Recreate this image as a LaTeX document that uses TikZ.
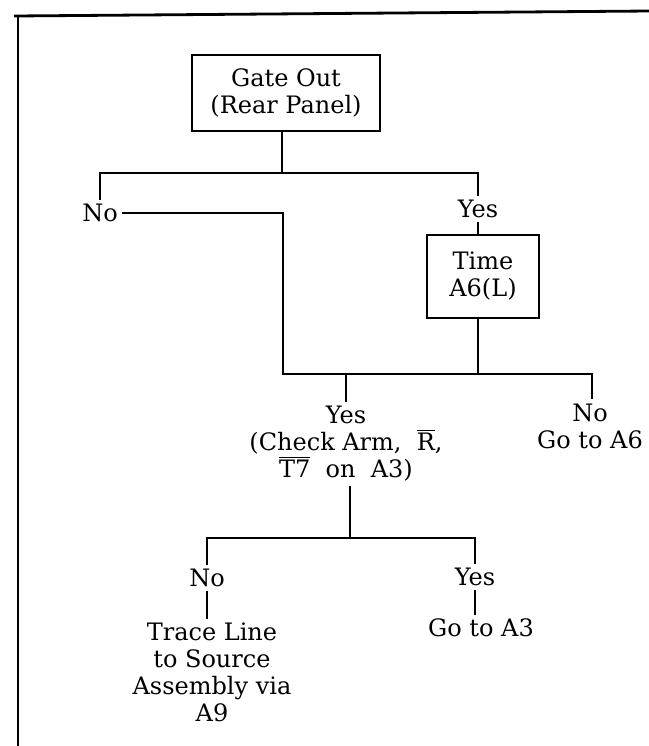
\documentclass[tikz,border=0pt]{standalone}
\usepackage{fontspec}
\setmainfont{DejaVu Serif}
\begin{document}
\begin{tikzpicture}[x=0.5pt,y=-0.5pt,
  lbl/.style={inner sep=2pt,align=center,font=\fontsize{12pt}{13.5pt}\selectfont},
  boxnode/.style={lbl,draw,line width=1.3pt},
  conn/.style={line width=1.3pt},
  frameline/.style={line width=1.4pt}]
\useasboundingbox (0,0) rectangle (649,746);
% frame
\draw[frameline] (14,16) -- (649,11);
\draw[frameline] (18,15) -- (18,746);
% nodes
\node[boxnode,minimum width=94pt,minimum height=38pt] (gate) at (286,93) {Gate Out\\(Rear Panel)};
\node[lbl] (no1) at (100,213) {No};
\node[lbl] (yes1) at (478,209) {Yes};
\node[boxnode,minimum width=56pt,minimum height=41.5pt] (time) at (483,276.5) {Time\\A6(L)};
\node[lbl] (yes2) at (346,444) {Yes\\(Check Arm,\ \ \(\overline{\hbox{R}}\),\\\(\overline{\hbox{T7}}\)\ \ on\ \ A3)};
\node[lbl] (no2) at (590,426) {No\\Go to A6};
\node[lbl] (no3) at (207,578) {No};
\node[lbl] (trace) at (212,672.5) {Trace Line\\to Source\\Assembly via\\A9};
\node[lbl] (yes3) at (475,577) {Yes};
\node[lbl] (goA3) at (481,628) {Go to A3};
% junctions
\coordinate (j1) at (282,173);
\coordinate (j2) at (283,374);
\coordinate (j3) at (592,374);
\coordinate (j4) at (350,538);
% connectors
\draw[conn] (j1 |- gate.south) -- (j1);
\draw[conn] (no1.north) -- (no1.north |- j1) -- (yes1.north |- j1) -- (yes1.north);
\draw[conn] (no1.east) -- (j2 |- no1.east) -- (j2) -- (j3) -- (j3 |- no2.north);
\draw[conn] (yes1.south) -- (yes1.south |- time.north);
\draw[conn] (yes1.south |- time.south) -- (yes1.south |- j2);
\draw[conn] (yes2.north |- j2) -- (yes2.north);
\draw[conn] (j4 |- yes2.south) -- (j4);
\draw[conn] (no3.north) -- (no3.north |- j4) -- (yes3.north |- j4) -- (yes3.north);
\draw[conn] (no3.south) -- (no3.south |- trace.north);
\draw[conn] (yes3.south) -- (yes3.south |- goA3.north);
\end{tikzpicture}
\end{document}
